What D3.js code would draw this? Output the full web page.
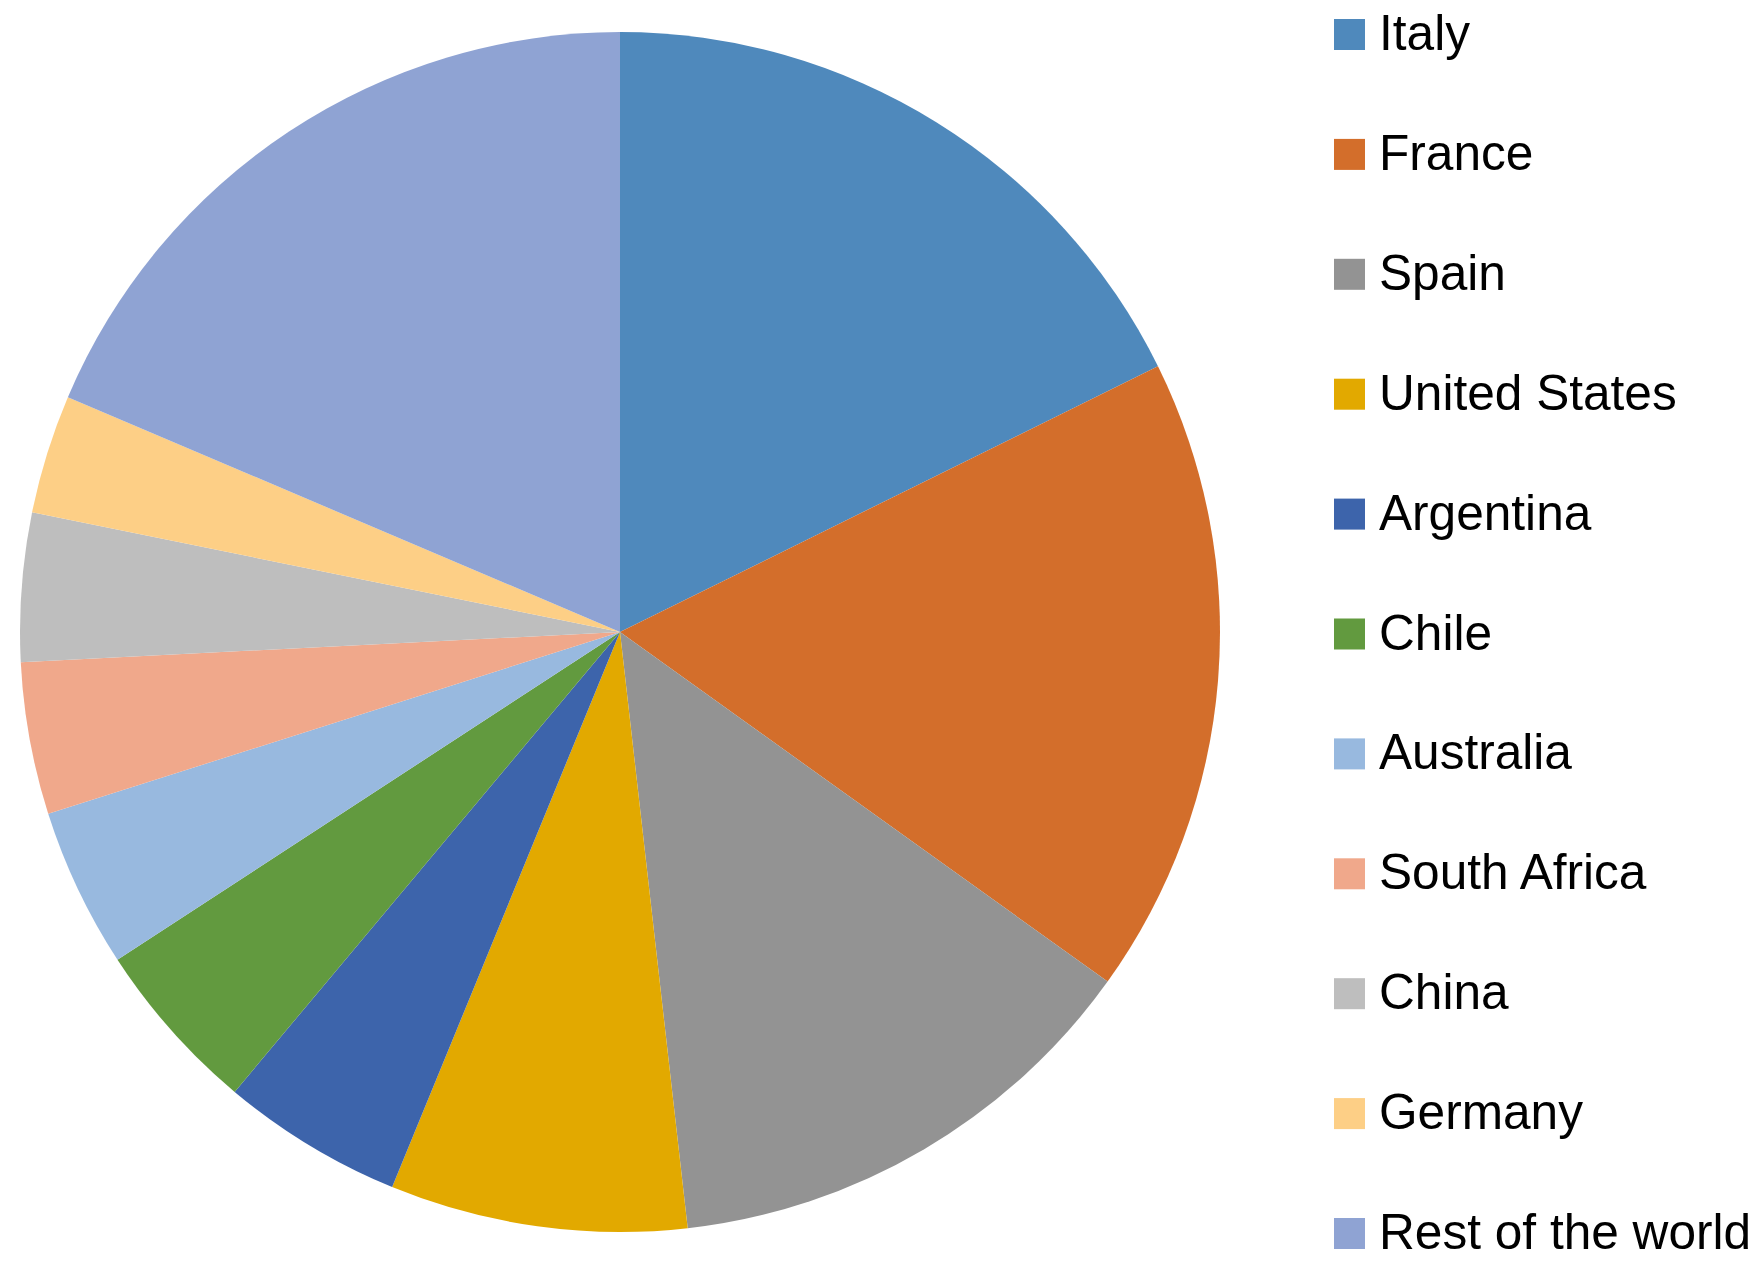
<!DOCTYPE html>
<html>
<head>
<meta charset="utf-8">
<script src="https://cdn.jsdelivr.net/npm/d3@7"></script>
<style>
  html, body { margin: 0; padding: 0; background: #fff; }
  svg { display: block; }
</style>
</head>
<body>
<svg id="chart" width="1764" height="1272"></svg>
<script>
const categories = ["Italy", "France", "Spain", "United States", "Argentina", "Chile", "Australia", "South Africa", "China", "Germany", "Rest of the world"];
const shares = [17.7, 17.2, 13.3, 8.0, 4.9, 4.7, 4.3, 4.1, 4.0, 3.2, 18.6];
const colors = ["#4F89BC", "#D36E2B", "#939393", "#E2A900", "#3D64AB", "#629A3F", "#98B9DF", "#F0A88B", "#BEBEBE", "#FDCF86", "#8FA3D3"];

const data = categories.map((c, i) => ({ name: c, value: shares[i] }));
const svg = d3.select("#chart");
const cx = 620, cy = 632, r = 600;

const color = d3.scaleOrdinal().domain(categories).range(colors);
const pie = d3.pie().value(d => d.value).sort(null);
const arc = d3.arc().innerRadius(0).outerRadius(r);

svg.append("g")
  .attr("transform", `translate(${cx},${cy})`)
  .selectAll("path")
  .data(pie(data))
  .join("path")
  .attr("d", arc)
  .attr("fill", d => color(d.data.name));

const legendY = d3.scalePoint().domain(categories).range([19, 1218]);
const lg = svg.append("g");
const item = lg.selectAll("g").data(categories).join("g")
  .attr("transform", d => `translate(1334,${legendY(d)})`);
item.append("rect").attr("width", 31).attr("height", 31).attr("fill", d => color(d));
item.append("text")
  .attr("x", 45).attr("y", 31)
  .attr("font-family", "Liberation Sans, Arial, sans-serif")
  .attr("font-size", 49.6)
  .attr("fill", "#000")
  .text(d => d);
</script>
</body>
</html>
